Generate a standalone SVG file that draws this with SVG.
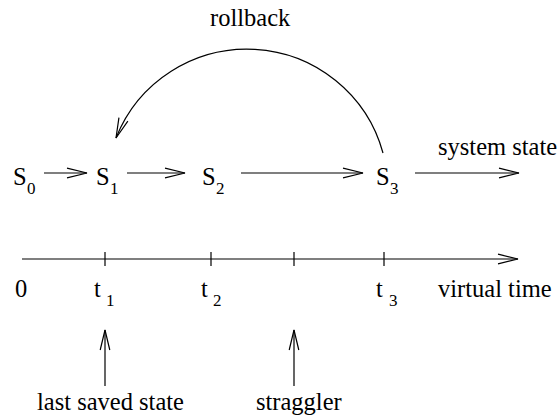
<svg xmlns="http://www.w3.org/2000/svg" width="560" height="419" viewBox="0 0 560 419">
<style>
.t{font-size:24.5px}
.s{font-size:17px}
.ln{stroke:#000;stroke-width:1.2;fill:none}
</style>
<defs>
<marker id="ah" markerUnits="userSpaceOnUse" markerWidth="30" markerHeight="20" refX="0" refY="0" viewBox="-22 -10 30 20" orient="auto" overflow="visible">
<path d="M-20,-4.8 L0,0 L-20,4.8" fill="none" stroke="#000" stroke-width="1.2"/>
</marker>
</defs>
<rect width="560" height="419" fill="#fff"/>
<g id="connectors">
<line class="ln" x1="44" y1="173" x2="87" y2="173" marker-end="url(#ah)"/>
<line class="ln" x1="127" y1="173" x2="185" y2="173" marker-end="url(#ah)"/>
<line class="ln" x1="241" y1="173" x2="363" y2="173" marker-end="url(#ah)"/>
<line class="ln" x1="415" y1="173" x2="519" y2="173" marker-end="url(#ah)"/>
<path class="ln" d="M383,153 A141,141 0 0 0 116,138" marker-end="url(#ah)"/>
<line class="ln" x1="22" y1="259" x2="518" y2="259" marker-end="url(#ah)"/>
<line class="ln" x1="105" y1="252" x2="105" y2="266"/>
<line class="ln" x1="211" y1="252" x2="211" y2="266"/>
<line class="ln" x1="294" y1="252" x2="294" y2="266"/>
<line class="ln" x1="384" y1="252" x2="384" y2="266"/>
<line class="ln" x1="105" y1="386" x2="105" y2="330" marker-end="url(#ah)"/>
<line class="ln" x1="294" y1="386" x2="294" y2="330" marker-end="url(#ah)"/>
</g>
<g fill="#000">
<g id="S0"><text font-family="Liberation Serif" class="t" x="13" y="185">S</text><text font-family="Liberation Serif" class="s" x="27" y="194">0</text></g>
<g id="S1"><text font-family="Liberation Serif" class="t" x="96" y="185">S</text><text font-family="Liberation Serif" class="s" x="110" y="194">1</text></g>
<g id="S2"><text font-family="Liberation Serif" class="t" x="202" y="185">S</text><text font-family="Liberation Serif" class="s" x="216" y="194">2</text></g>
<g id="S3"><text font-family="Liberation Serif" class="t" x="376" y="185">S</text><text font-family="Liberation Serif" class="s" x="390" y="194">3</text></g>
<g id="rollback"><text font-family="Liberation Serif" class="t" x="210" y="26">rollback</text></g>
<g id="system-state"><text font-family="Liberation Serif" class="t" x="438" y="155">system state</text></g>
<g id="t0"><text font-family="Liberation Serif" class="t" x="15" y="297">0</text></g>
<g id="t1"><text font-family="Liberation Serif" class="t" x="94" y="297">t</text><text font-family="Liberation Serif" class="s" x="106" y="306">1</text></g>
<g id="t2"><text font-family="Liberation Serif" class="t" x="201" y="297">t</text><text font-family="Liberation Serif" class="s" x="213" y="306">2</text></g>
<g id="t3"><text font-family="Liberation Serif" class="t" x="376" y="297">t</text><text font-family="Liberation Serif" class="s" x="389" y="306">3</text></g>
<g id="virtual-time"><text font-family="Liberation Serif" class="t" x="438" y="297">virtual time</text></g>
<g id="last-saved"><text font-family="Liberation Serif" class="t" x="37" y="410">last saved state</text></g>
<g id="straggler"><text font-family="Liberation Serif" class="t" x="256" y="410">straggler</text></g>
</g>
</svg>
